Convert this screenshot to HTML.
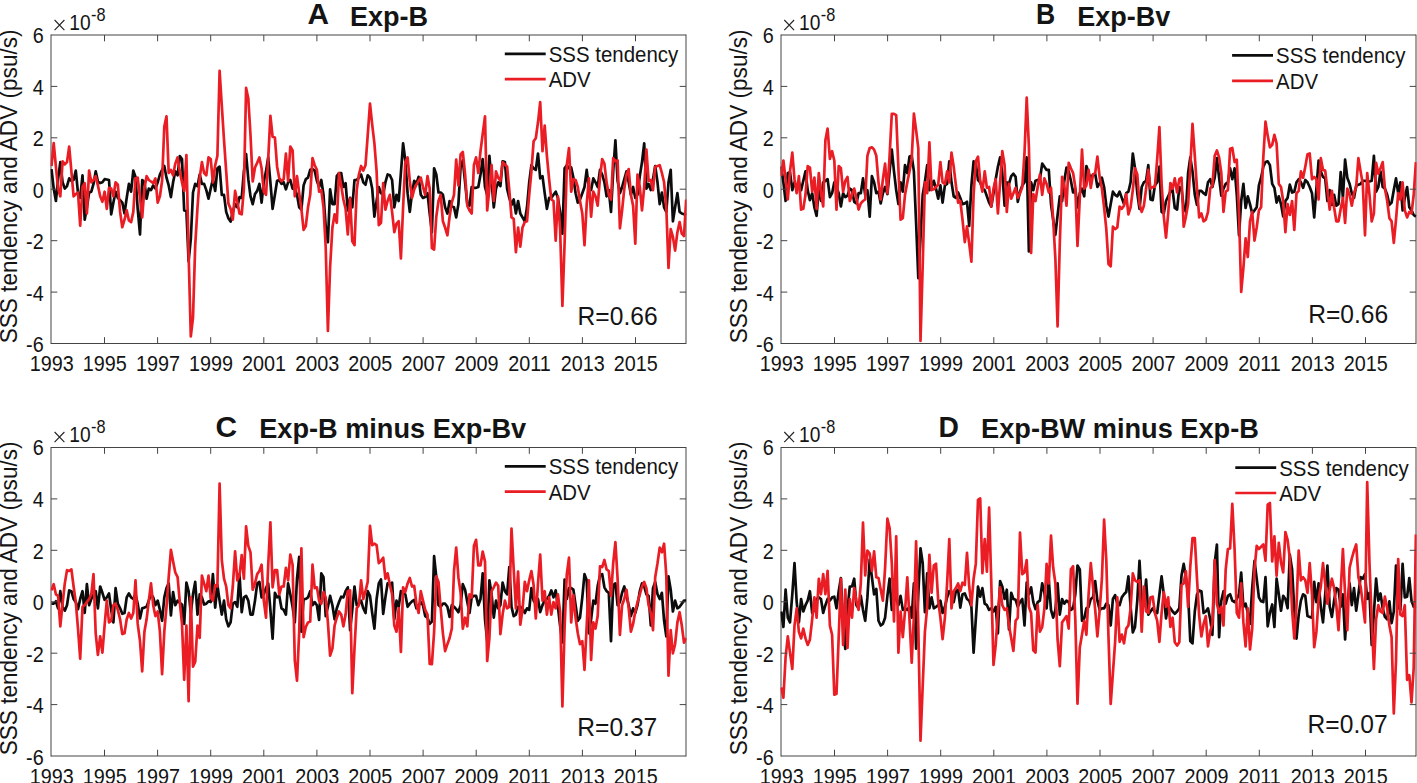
<!DOCTYPE html><html><head><meta charset="utf-8"><title>fig</title><style>html,body{margin:0;padding:0;background:#fff;overflow:hidden}svg{display:block}text{font-family:"Liberation Sans",sans-serif;fill:#141414}</style></head><body>
<svg width="1417" height="783" viewBox="0 0 1417 783">
<rect width="1417" height="783" fill="#fff"/>
<g><clipPath id="cpA"><rect x="50.5" y="35.0" width="636.0" height="308.5"/></clipPath><path d="M51.0,35.0H686.0M51.0,343.5H686.0M51.0,34.5V344.0M686.0,34.5V344.0" fill="none" stroke="#454545" stroke-width="1"/><polyline clip-path="url(#cpA)" points="51.5,169.1 53.7,188.6 55.9,201.0 58.1,179.2 60.3,162.1 62.6,182.3 64.8,188.6 67.0,186.2 69.2,178.4 71.4,180.8 73.6,180.0 75.8,170.6 78.0,193.2 80.2,197.9 82.5,175.3 84.7,219.7 86.9,207.3 89.1,192.5 91.3,191.7 93.5,183.9 95.7,171.4 97.9,181.5 100.2,183.1 102.4,182.3 104.6,179.2 106.8,179.5 109.0,180.0 111.2,214.3 113.4,202.6 115.6,191.7 117.8,197.9 120.1,200.2 122.3,202.6 124.5,213.5 126.7,197.9 128.9,183.9 131.1,191.7 133.3,170.6 135.5,176.9 137.7,208.8 140.0,234.5 142.2,180.0 144.4,182.3 146.6,198.7 148.8,188.6 151.0,190.1 153.2,185.4 155.4,188.6 157.7,182.3 159.9,174.5 162.1,169.9 164.3,166.0 166.5,177.7 168.7,185.4 170.9,197.1 173.1,182.3 175.3,171.4 177.6,175.3 179.8,156.1 182.0,159.0 184.2,210.4 186.4,211.0 188.6,261.2 190.8,239.0 193.0,192.5 195.2,183.9 197.5,186.2 199.7,174.5 201.9,183.9 204.1,183.9 206.3,190.1 208.5,198.7 210.7,188.6 212.9,179.2 215.2,190.9 217.4,168.3 219.6,166.7 221.8,194.8 224.0,194.8 226.2,211.9 228.4,218.2 230.6,221.6 232.8,211.9 235.1,204.1 237.3,207.3 239.5,197.1 241.7,197.9 243.9,171.4 246.1,154.0 248.3,179.2 250.5,196.3 252.7,204.1 255.0,194.0 257.2,190.9 259.4,183.9 261.6,202.6 263.8,181.5 266.0,171.4 268.2,157.4 270.4,182.3 272.6,208.8 274.9,194.8 277.1,180.8 279.3,180.0 281.5,183.9 283.7,182.3 285.9,189.3 288.1,182.3 290.3,180.0 292.6,188.6 294.8,189.3 297.0,194.8 299.2,207.3 301.4,209.6 303.6,185.4 305.8,179.2 308.0,177.7 310.2,169.9 312.5,169.1 314.7,170.6 316.9,180.8 319.1,187.0 321.3,180.0 323.5,194.8 325.7,226.0 327.9,242.2 330.1,189.3 332.4,204.1 334.6,204.1 336.8,176.1 339.0,173.0 341.2,173.0 343.4,187.0 345.6,183.1 347.8,210.4 350.1,197.9 352.3,207.3 354.5,180.0 356.7,180.0 358.9,177.7 361.1,174.5 363.3,182.3 365.5,184.7 367.7,175.3 370.0,177.7 372.2,188.6 374.4,216.6 376.6,201.0 378.8,187.0 381.0,193.2 383.2,194.8 385.4,182.3 387.6,174.5 389.9,175.3 392.1,180.0 394.3,207.3 396.5,194.8 398.7,201.0 400.9,173.0 403.1,143.4 405.3,160.5 407.6,193.2 409.8,211.9 412.0,193.2 414.2,180.8 416.4,183.9 418.6,176.9 420.8,194.8 423.0,197.9 425.2,197.1 427.5,193.2 429.7,213.5 431.9,232.2 434.1,168.3 436.3,174.5 438.5,192.5 440.7,192.5 442.9,194.8 445.1,207.3 447.4,213.5 449.6,201.0 451.8,206.5 454.0,207.3 456.2,217.4 458.4,204.1 460.6,166.7 462.8,160.5 465.1,182.3 467.3,204.1 469.5,205.7 471.7,187.0 473.9,187.8 476.1,187.8 478.3,187.0 480.5,174.5 482.7,159.0 485.0,187.0 487.2,194.8 489.4,155.8 491.6,182.3 493.8,207.3 496.0,188.6 498.2,182.3 500.4,186.2 502.6,161.3 504.9,162.1 507.1,188.6 509.3,197.9 511.5,204.9 513.7,199.5 515.9,213.5 518.1,201.0 520.3,213.5 522.5,217.4 524.8,221.3 527.0,207.3 529.2,182.3 531.4,165.2 533.6,168.3 535.8,169.9 538.0,153.5 540.2,178.4 542.5,176.1 544.7,193.2 546.9,208.8 549.1,197.9 551.3,197.9 553.5,194.8 555.7,191.7 557.9,197.9 560.1,211.9 562.4,233.7 564.6,168.3 566.8,165.2 569.0,168.3 571.2,167.5 573.4,177.7 575.6,193.2 577.8,202.6 580.0,199.5 582.3,193.2 584.5,187.0 586.7,169.9 588.9,188.6 591.1,190.1 593.3,178.4 595.5,182.3 597.7,187.0 600.0,169.9 602.2,174.5 604.4,182.3 606.6,196.3 608.8,190.1 611.0,211.9 613.2,171.4 615.4,140.3 617.6,180.8 619.9,193.2 622.1,187.0 624.3,179.2 626.5,171.4 628.7,182.3 630.9,194.8 633.1,187.0 635.3,197.9 637.5,194.8 639.8,176.1 642.0,162.1 644.2,143.4 646.4,188.6 648.6,183.9 650.8,190.1 653.0,179.2 655.2,166.0 657.5,182.3 659.7,204.1 661.9,192.5 664.1,207.3 666.3,211.9 668.5,182.3 670.7,169.9 672.9,221.3 675.1,207.3 677.4,193.2 679.6,211.9 681.8,213.5 684.0,214.3 686.2,215.0" fill="none" stroke="#0c0c0c" stroke-width="2.7" stroke-linejoin="round" stroke-linecap="butt"/><polyline clip-path="url(#cpA)" points="51.5,166.0 53.7,143.1 55.9,166.7 58.1,188.6 60.3,196.3 62.6,161.3 64.8,164.4 67.0,162.1 69.2,146.5 71.4,171.4 73.6,196.3 75.8,194.0 78.0,192.5 80.2,225.6 82.5,187.0 84.7,183.1 86.9,213.5 89.1,170.6 91.3,182.3 93.5,180.0 95.7,176.1 97.9,185.4 100.2,196.3 102.4,201.8 104.6,191.7 106.8,208.8 109.0,187.8 111.2,188.6 113.4,196.3 115.6,182.3 117.8,184.7 120.1,211.9 122.3,227.2 124.5,219.7 126.7,210.4 128.9,220.5 131.1,222.1 133.3,211.9 135.5,178.4 137.7,177.7 140.0,197.9 142.2,217.4 144.4,188.6 146.6,176.1 148.8,180.0 151.0,181.5 153.2,183.1 155.4,178.4 157.7,202.6 159.9,196.3 162.1,180.8 164.3,126.5 166.5,116.4 168.7,173.0 170.9,169.9 173.1,175.3 175.3,163.6 177.6,157.4 179.8,171.4 182.0,182.3 184.2,190.9 186.4,155.1 188.6,253.4 190.8,336.4 193.0,317.6 195.2,245.7 197.5,207.3 199.7,177.7 201.9,162.1 204.1,173.0 206.3,175.3 208.5,157.4 210.7,159.0 212.9,182.3 215.2,165.2 217.4,155.8 219.6,70.8 221.8,105.7 224.0,139.8 226.2,171.4 228.4,203.4 230.6,208.8 232.8,219.7 235.1,190.9 237.3,201.8 239.5,213.5 241.7,214.3 243.9,188.6 246.1,87.9 248.3,98.5 250.5,135.0 252.7,181.5 255.0,167.5 257.2,162.8 259.4,157.4 261.6,168.3 263.8,191.7 266.0,194.8 268.2,159.0 270.4,115.9 272.6,136.8 274.9,137.5 277.1,166.7 279.3,178.4 281.5,181.1 283.7,179.2 285.9,153.5 288.1,180.8 290.3,146.5 292.6,150.4 294.8,196.3 297.0,176.1 299.2,193.2 301.4,208.8 303.6,229.8 305.8,226.0 308.0,207.3 310.2,194.8 312.5,158.2 314.7,165.2 316.9,169.9 319.1,191.7 321.3,190.1 323.5,207.3 325.7,247.0 327.9,331.0 330.1,267.2 332.4,227.5 334.6,214.3 336.8,222.8 339.0,173.0 341.2,185.4 343.4,199.5 345.6,208.8 347.8,234.5 350.1,198.7 352.3,241.4 354.5,245.1 356.7,190.1 358.9,174.5 361.1,166.0 363.3,170.6 365.5,165.2 367.7,135.6 370.0,103.6 372.2,124.7 374.4,143.4 376.6,171.4 378.8,225.2 381.0,222.8 383.2,183.1 385.4,209.6 387.6,201.0 389.9,194.8 392.1,211.9 394.3,232.2 396.5,223.6 398.7,221.3 400.9,258.5 403.1,207.3 405.3,162.1 407.6,157.4 409.8,180.8 412.0,197.9 414.2,189.3 416.4,184.7 418.6,180.8 420.8,177.7 423.0,187.0 425.2,194.8 427.5,176.1 429.7,188.6 431.9,248.2 434.1,249.5 436.3,216.6 438.5,201.0 440.7,194.8 442.9,221.3 445.1,227.5 447.4,235.3 449.6,216.6 451.8,202.6 454.0,194.8 456.2,159.7 458.4,185.4 460.6,154.3 462.8,151.9 465.1,174.5 467.3,205.7 469.5,210.4 471.7,213.5 473.9,165.2 476.1,157.4 478.3,173.0 480.5,151.2 482.7,134.0 485.0,116.4 487.2,210.4 489.4,188.6 491.6,165.2 493.8,201.0 496.0,171.4 498.2,177.7 500.4,180.8 502.6,162.1 504.9,164.4 507.1,166.7 509.3,190.1 511.5,217.4 513.7,218.9 515.9,252.1 518.1,227.5 520.3,246.7 522.5,227.5 524.8,222.1 527.0,221.3 529.2,194.8 531.4,171.4 533.6,141.3 535.8,138.2 538.0,122.3 540.2,102.1 542.5,151.2 544.7,125.5 546.9,155.8 549.1,179.2 551.3,199.5 553.5,201.0 555.7,240.6 557.9,196.3 560.1,229.1 562.4,306.0 564.6,243.1 566.8,165.2 569.0,148.0 571.2,191.7 573.4,179.2 575.6,180.0 577.8,187.0 580.0,201.0 582.3,213.5 584.5,245.1 586.7,204.1 588.9,178.4 591.1,216.6 593.3,191.7 595.5,196.3 597.7,205.7 600.0,177.7 602.2,159.0 604.4,163.6 606.6,182.3 608.8,194.8 611.0,199.5 613.2,158.2 615.4,161.3 617.6,160.5 619.9,228.3 622.1,210.4 624.3,188.6 626.5,174.5 628.7,169.1 630.9,194.8 633.1,205.7 635.3,243.7 637.5,174.5 639.8,187.0 642.0,210.4 644.2,187.0 646.4,149.6 648.6,180.8 650.8,180.0 653.0,190.1 655.2,166.7 657.5,166.0 659.7,165.2 661.9,173.0 664.1,182.3 666.3,207.3 668.5,267.9 670.7,229.1 672.9,236.9 675.1,250.6 677.4,232.2 679.6,222.1 681.8,233.7 684.0,236.1 686.2,199.5" fill="none" stroke="#ea1c24" stroke-width="2.7" stroke-linejoin="round" stroke-linecap="butt"/><text transform="translate(51.7,371.4) scale(1,1.14)" font-size="19.8" text-anchor="middle">1993</text><text transform="translate(104.8,371.4) scale(1,1.14)" font-size="19.8" text-anchor="middle">1995</text><text transform="translate(157.9,371.4) scale(1,1.14)" font-size="19.8" text-anchor="middle">1997</text><text transform="translate(211.0,371.4) scale(1,1.14)" font-size="19.8" text-anchor="middle">1999</text><text transform="translate(264.1,371.4) scale(1,1.14)" font-size="19.8" text-anchor="middle">2001</text><text transform="translate(317.2,371.4) scale(1,1.14)" font-size="19.8" text-anchor="middle">2003</text><text transform="translate(370.3,371.4) scale(1,1.14)" font-size="19.8" text-anchor="middle">2005</text><text transform="translate(423.4,371.4) scale(1,1.14)" font-size="19.8" text-anchor="middle">2007</text><text transform="translate(476.5,371.4) scale(1,1.14)" font-size="19.8" text-anchor="middle">2009</text><text transform="translate(529.6,371.4) scale(1,1.14)" font-size="19.8" text-anchor="middle">2011</text><text transform="translate(582.7,371.4) scale(1,1.14)" font-size="19.8" text-anchor="middle">2013</text><text transform="translate(635.8,371.4) scale(1,1.14)" font-size="19.8" text-anchor="middle">2015</text><text transform="translate(43.7,352.3) scale(1,1.14)" font-size="19.8" text-anchor="end">-6</text><text transform="translate(43.7,300.7) scale(1,1.14)" font-size="19.8" text-anchor="end">-4</text><text transform="translate(43.7,249.2) scale(1,1.14)" font-size="19.8" text-anchor="end">-2</text><text transform="translate(43.7,197.6) scale(1,1.14)" font-size="19.8" text-anchor="end">0</text><text transform="translate(43.7,146.0) scale(1,1.14)" font-size="19.8" text-anchor="end">2</text><text transform="translate(43.7,94.5) scale(1,1.14)" font-size="19.8" text-anchor="end">4</text><text transform="translate(43.7,42.9) scale(1,1.14)" font-size="19.8" text-anchor="end">6</text><path d="M104.5,343.5v-6.3M104.5,35.0v6.3M157.6,343.5v-6.3M157.6,35.0v6.3M210.7,343.5v-6.3M210.7,35.0v6.3M263.8,343.5v-6.3M263.8,35.0v6.3M316.9,343.5v-6.3M316.9,35.0v6.3M370.0,343.5v-6.3M370.0,35.0v6.3M423.1,343.5v-6.3M423.1,35.0v6.3M476.2,343.5v-6.3M476.2,35.0v6.3M529.3,343.5v-6.3M529.3,35.0v6.3M582.4,343.5v-6.3M582.4,35.0v6.3M635.5,343.5v-6.3M635.5,35.0v6.3M51.0,292.1h6.3M686.0,292.1h-6.3M51.0,240.7h6.3M686.0,240.7h-6.3M51.0,189.2h6.3M686.0,189.2h-6.3M51.0,137.8h6.3M686.0,137.8h-6.3M51.0,86.4h6.3M686.0,86.4h-6.3" stroke="#454545" stroke-width="1" fill="none"/><path d="M54.6,20.0l9.8,10.1M64.4,20.0l-9.8,10.1" stroke="#222" stroke-width="1.1" fill="none"/><text transform="translate(69.3,30.0) scale(1,1.12)" font-size="19.2">10</text><text transform="translate(91.1,21.0) scale(1,1.1)" font-size="16.3">-8</text><text transform="translate(16.9,186.4) rotate(-90) scale(1,1.075)" font-size="22.6" text-anchor="middle">SSS tendency and ADV (psu/s)</text><text x="307.4" y="24.4" font-size="28.8" font-weight="bold" fill="#000" textLength="21.5" lengthAdjust="spacingAndGlyphs">A</text><text x="350.0" y="25.9" font-size="27.5" font-weight="bold" fill="#000" textLength="78.1" lengthAdjust="spacingAndGlyphs">Exp-B</text><path d="M504.8,53.8h40.9" stroke="#0c0c0c" stroke-width="2.7"/><path d="M504.8,79.2h40.9" stroke="#ea1c24" stroke-width="2.7"/><text transform="translate(548.7,61.7) scale(1,1.035)" font-size="20.45">SSS tendency</text><text transform="translate(548.7,87.4) scale(1,1.035)" font-size="20.45">ADV</text><text transform="translate(577.6,324.8) scale(1,1.03)" font-size="24.6">R=0.66</text></g>
<g><clipPath id="cpB"><rect x="780.5" y="35.0" width="636.0" height="308.5"/></clipPath><path d="M781.0,35.0H1416.0M781.0,343.5H1416.0M781.0,34.5V344.0M1416.0,34.5V344.0" fill="none" stroke="#454545" stroke-width="1"/><polyline clip-path="url(#cpB)" points="781.2,166.7 783.4,182.3 785.6,201.0 787.8,173.0 790.0,172.2 792.3,190.1 794.5,182.3 796.7,188.6 798.9,182.3 801.1,190.1 803.3,180.8 805.5,171.4 807.7,190.1 809.9,200.2 812.2,193.2 814.4,207.3 816.6,215.8 818.8,187.0 821.0,201.0 823.2,182.3 825.4,180.8 827.6,179.2 829.9,197.1 832.1,193.2 834.3,182.3 836.5,187.0 838.7,193.2 840.9,206.5 843.1,193.2 845.3,197.1 847.5,195.6 849.8,188.6 852.0,190.1 854.2,201.8 856.4,203.4 858.6,193.2 860.8,193.2 863.0,178.4 865.2,194.8 867.4,190.1 869.7,216.6 871.9,176.1 874.1,182.3 876.3,193.2 878.5,191.7 880.7,203.4 882.9,193.2 885.1,187.0 887.4,194.0 889.6,171.4 891.8,149.6 894.0,171.4 896.2,190.1 898.4,204.1 900.6,182.3 902.8,191.7 905.0,165.2 907.3,173.0 909.5,156.6 911.7,155.8 913.9,171.4 916.1,222.6 918.3,278.1 920.5,238.0 922.7,194.8 924.9,182.3 927.2,165.2 929.4,190.1 931.6,187.0 933.8,180.8 936.0,188.6 938.2,198.7 940.4,185.4 942.6,202.6 944.9,185.4 947.1,183.9 949.3,161.3 951.5,182.3 953.7,196.3 955.9,197.9 958.1,192.5 960.3,197.9 962.5,204.1 964.8,203.4 967.0,201.8 969.2,226.0 971.4,185.4 973.6,161.3 975.8,163.6 978.0,180.0 980.2,182.3 982.4,188.6 984.7,190.1 986.9,196.3 989.1,202.6 991.3,206.5 993.5,193.2 995.7,179.2 997.9,166.7 1000.1,157.4 1002.3,173.0 1004.6,205.7 1006.8,182.3 1009.0,183.9 1011.2,176.1 1013.4,173.8 1015.6,176.9 1017.8,201.8 1020.0,191.7 1022.3,185.4 1024.5,182.3 1026.7,157.4 1028.9,251.4 1031.1,182.3 1033.3,190.1 1035.5,180.8 1037.7,180.0 1039.9,179.2 1042.2,163.6 1044.4,166.7 1046.6,169.9 1048.8,169.9 1051.0,204.1 1053.2,219.7 1055.4,234.9 1057.6,215.0 1059.8,196.3 1062.1,201.0 1064.3,180.8 1066.5,167.5 1068.7,171.4 1070.9,180.8 1073.1,192.5 1075.3,188.6 1077.5,207.3 1079.8,193.2 1082.0,188.6 1084.2,196.3 1086.4,166.0 1088.6,173.0 1090.8,178.4 1093.0,174.5 1095.2,173.8 1097.4,187.0 1099.7,183.1 1101.9,177.7 1104.1,187.0 1106.3,205.7 1108.5,216.6 1110.7,204.1 1112.9,191.7 1115.1,194.8 1117.3,196.3 1119.6,191.7 1121.8,197.9 1124.0,204.1 1126.2,193.2 1128.4,191.7 1130.6,182.3 1132.8,153.5 1135.0,168.3 1137.3,193.2 1139.5,208.8 1141.7,187.0 1143.9,182.3 1146.1,180.8 1148.3,165.2 1150.5,199.5 1152.7,200.2 1154.9,185.4 1157.2,182.3 1159.4,166.7 1161.6,211.9 1163.8,213.5 1166.0,201.0 1168.2,196.3 1170.4,191.7 1172.6,190.1 1174.8,208.0 1177.1,209.6 1179.3,187.0 1181.5,188.6 1183.7,207.3 1185.9,211.9 1188.1,173.0 1190.3,157.4 1192.5,171.4 1194.8,194.8 1197.0,204.9 1199.2,190.9 1201.4,190.9 1203.6,193.2 1205.8,194.8 1208.0,182.3 1210.2,179.2 1212.4,187.0 1214.7,177.7 1216.9,158.2 1219.1,177.7 1221.3,195.6 1223.5,188.6 1225.7,183.9 1227.9,182.3 1230.1,168.3 1232.3,179.2 1234.6,168.3 1236.8,194.8 1239.0,235.3 1241.2,201.0 1243.4,183.9 1245.6,208.0 1247.8,196.3 1250.0,204.1 1252.2,213.5 1254.5,210.4 1256.7,207.3 1258.9,185.4 1261.1,177.7 1263.3,166.7 1265.5,162.1 1267.7,161.3 1269.9,165.2 1272.2,183.9 1274.4,187.8 1276.6,202.6 1278.8,196.3 1281.0,204.1 1283.2,216.6 1285.4,201.0 1287.6,197.9 1289.8,184.7 1292.1,192.5 1294.3,191.7 1296.5,182.3 1298.7,179.2 1300.9,182.3 1303.1,187.8 1305.3,180.0 1307.5,182.3 1309.7,187.0 1312.0,193.2 1314.2,217.4 1316.4,188.6 1318.6,160.5 1320.8,171.4 1323.0,176.9 1325.2,178.4 1327.4,201.0 1329.7,190.1 1331.9,204.9 1334.1,194.8 1336.3,205.7 1338.5,204.1 1340.7,172.2 1342.9,197.9 1345.1,159.7 1347.3,177.7 1349.6,183.9 1351.8,193.2 1354.0,197.9 1356.2,185.4 1358.4,184.7 1360.6,183.9 1362.8,180.8 1365.0,180.8 1367.2,181.5 1369.5,181.5 1371.7,180.8 1373.9,155.8 1376.1,191.7 1378.3,187.0 1380.5,171.4 1382.7,187.0 1384.9,188.6 1387.2,194.8 1389.4,204.9 1391.6,202.6 1393.8,190.1 1396.0,178.4 1398.2,193.2 1400.4,182.3 1402.6,210.4 1404.8,197.9 1407.1,187.0 1409.3,207.3 1411.5,210.4 1413.7,215.0 1415.9,216.6" fill="none" stroke="#0c0c0c" stroke-width="2.7" stroke-linejoin="round" stroke-linecap="butt"/><polyline clip-path="url(#cpB)" points="781.2,176.1 783.4,160.5 785.6,179.2 787.8,199.5 790.0,171.4 792.3,152.7 794.5,179.2 796.7,193.2 798.9,176.1 801.1,209.6 803.3,208.8 805.5,194.8 807.7,166.0 809.9,167.5 812.2,191.7 814.4,177.7 816.6,208.8 818.8,173.0 821.0,193.2 823.2,206.5 825.4,140.3 827.6,128.6 829.9,159.0 832.1,151.2 834.3,160.5 836.5,209.6 838.7,166.0 840.9,168.3 843.1,191.7 845.3,180.8 847.5,176.9 849.8,201.0 852.0,194.8 854.2,188.6 856.4,197.9 858.6,209.6 860.8,203.4 863.0,201.0 865.2,199.5 867.4,155.8 869.7,148.0 871.9,147.3 874.1,149.6 876.3,155.8 878.5,182.3 880.7,199.5 882.9,179.2 885.1,163.6 887.4,193.2 889.6,155.8 891.8,113.9 894.0,113.9 896.2,115.2 898.4,168.3 900.6,219.7 902.8,218.2 905.0,194.8 907.3,182.3 909.5,171.4 911.7,159.0 913.9,113.6 916.1,130.1 918.3,148.1 920.5,341.0 922.7,265.5 924.9,182.3 927.2,193.2 929.4,142.4 931.6,190.1 933.8,189.3 936.0,187.0 938.2,184.7 940.4,162.1 942.6,182.3 944.9,183.9 947.1,171.4 949.3,182.3 951.5,152.7 953.7,166.7 955.9,185.4 958.1,202.6 960.3,201.0 962.5,219.7 964.8,242.1 967.0,226.4 969.2,243.7 971.4,261.6 973.6,194.8 975.8,161.3 978.0,156.6 980.2,180.8 982.4,191.7 984.7,171.4 986.9,187.8 989.1,187.0 991.3,206.5 993.5,188.6 995.7,179.2 997.9,213.5 1000.1,182.3 1002.3,151.2 1004.6,165.2 1006.8,211.9 1009.0,183.9 1011.2,198.7 1013.4,193.2 1015.6,187.8 1017.8,197.9 1020.0,193.2 1022.3,187.0 1024.5,153.2 1026.7,97.7 1028.9,146.8 1031.1,252.9 1033.3,194.0 1035.5,201.0 1037.7,187.0 1039.9,174.5 1042.2,194.8 1044.4,178.4 1046.6,183.9 1048.8,192.5 1051.0,187.8 1053.2,219.7 1055.4,259.3 1057.6,326.4 1059.8,243.1 1062.1,176.9 1064.3,185.4 1066.5,205.7 1068.7,162.8 1070.9,168.3 1073.1,173.0 1075.3,187.0 1077.5,246.0 1079.8,197.9 1082.0,149.6 1084.2,188.6 1086.4,185.4 1088.6,169.9 1090.8,187.8 1093.0,174.5 1095.2,173.0 1097.4,156.6 1099.7,177.7 1101.9,188.6 1104.1,207.3 1106.3,229.1 1108.5,264.0 1110.7,266.3 1112.9,226.7 1115.1,229.1 1117.3,227.5 1119.6,206.5 1121.8,208.8 1124.0,205.7 1126.2,194.0 1128.4,214.3 1130.6,207.3 1132.8,190.1 1135.0,168.3 1137.3,174.5 1139.5,204.1 1141.7,211.9 1143.9,205.7 1146.1,188.6 1148.3,169.9 1150.5,188.6 1152.7,187.0 1154.9,187.0 1157.2,159.0 1159.4,127.0 1161.6,183.9 1163.8,216.6 1166.0,237.6 1168.2,213.5 1170.4,183.1 1172.6,188.6 1174.8,178.4 1177.1,192.5 1179.3,179.2 1181.5,177.7 1183.7,226.7 1185.9,216.6 1188.1,204.1 1190.3,166.7 1192.5,123.9 1194.8,155.8 1197.0,188.6 1199.2,217.4 1201.4,213.5 1203.6,221.3 1205.8,219.7 1208.0,211.9 1210.2,188.6 1212.4,185.4 1214.7,155.8 1216.9,150.4 1219.1,157.4 1221.3,173.0 1223.5,211.9 1225.7,191.7 1227.9,190.1 1230.1,148.8 1232.3,148.0 1234.6,162.1 1236.8,159.7 1239.0,213.5 1241.2,292.0 1243.4,267.8 1245.6,238.3 1247.8,257.0 1250.0,221.3 1252.2,211.9 1254.5,240.6 1256.7,227.5 1258.9,210.4 1261.1,207.3 1263.3,157.4 1265.5,121.6 1267.7,135.6 1269.9,147.3 1272.2,144.9 1274.4,134.8 1276.6,143.4 1278.8,183.9 1281.0,187.0 1283.2,201.0 1285.4,232.2 1287.6,204.1 1289.8,215.0 1292.1,201.0 1294.3,229.8 1296.5,193.2 1298.7,190.9 1300.9,171.4 1303.1,177.7 1305.3,166.7 1307.5,154.3 1309.7,153.5 1312.0,179.2 1314.2,176.9 1316.4,179.2 1318.6,199.5 1320.8,158.2 1323.0,169.9 1325.2,170.6 1327.4,190.1 1329.7,209.6 1331.9,190.9 1334.1,207.3 1336.3,221.3 1338.5,221.3 1340.7,208.8 1342.9,197.9 1345.1,222.8 1347.3,188.6 1349.6,194.8 1351.8,205.7 1354.0,193.2 1356.2,187.0 1358.4,158.2 1360.6,171.4 1362.8,183.9 1365.0,235.3 1367.2,173.0 1369.5,194.8 1371.7,221.3 1373.9,213.5 1376.1,162.8 1378.3,173.8 1380.5,168.3 1382.7,162.1 1384.9,188.6 1387.2,201.0 1389.4,218.2 1391.6,221.3 1393.8,242.9 1396.0,219.7 1398.2,193.2 1400.4,199.5 1402.6,182.3 1404.8,210.4 1407.1,217.4 1409.3,211.9 1411.5,213.5 1413.7,194.8 1415.9,162.1" fill="none" stroke="#ea1c24" stroke-width="2.7" stroke-linejoin="round" stroke-linecap="butt"/><text transform="translate(781.7,371.4) scale(1,1.14)" font-size="19.8" text-anchor="middle">1993</text><text transform="translate(834.8,371.4) scale(1,1.14)" font-size="19.8" text-anchor="middle">1995</text><text transform="translate(887.9,371.4) scale(1,1.14)" font-size="19.8" text-anchor="middle">1997</text><text transform="translate(941.0,371.4) scale(1,1.14)" font-size="19.8" text-anchor="middle">1999</text><text transform="translate(994.1,371.4) scale(1,1.14)" font-size="19.8" text-anchor="middle">2001</text><text transform="translate(1047.2,371.4) scale(1,1.14)" font-size="19.8" text-anchor="middle">2003</text><text transform="translate(1100.3,371.4) scale(1,1.14)" font-size="19.8" text-anchor="middle">2005</text><text transform="translate(1153.4,371.4) scale(1,1.14)" font-size="19.8" text-anchor="middle">2007</text><text transform="translate(1206.5,371.4) scale(1,1.14)" font-size="19.8" text-anchor="middle">2009</text><text transform="translate(1259.6,371.4) scale(1,1.14)" font-size="19.8" text-anchor="middle">2011</text><text transform="translate(1312.7,371.4) scale(1,1.14)" font-size="19.8" text-anchor="middle">2013</text><text transform="translate(1365.8,371.4) scale(1,1.14)" font-size="19.8" text-anchor="middle">2015</text><text transform="translate(773.7,352.3) scale(1,1.14)" font-size="19.8" text-anchor="end">-6</text><text transform="translate(773.7,300.7) scale(1,1.14)" font-size="19.8" text-anchor="end">-4</text><text transform="translate(773.7,249.2) scale(1,1.14)" font-size="19.8" text-anchor="end">-2</text><text transform="translate(773.7,197.6) scale(1,1.14)" font-size="19.8" text-anchor="end">0</text><text transform="translate(773.7,146.0) scale(1,1.14)" font-size="19.8" text-anchor="end">2</text><text transform="translate(773.7,94.5) scale(1,1.14)" font-size="19.8" text-anchor="end">4</text><text transform="translate(773.7,42.9) scale(1,1.14)" font-size="19.8" text-anchor="end">6</text><path d="M834.5,343.5v-6.3M834.5,35.0v6.3M887.6,343.5v-6.3M887.6,35.0v6.3M940.7,343.5v-6.3M940.7,35.0v6.3M993.8,343.5v-6.3M993.8,35.0v6.3M1046.9,343.5v-6.3M1046.9,35.0v6.3M1100.0,343.5v-6.3M1100.0,35.0v6.3M1153.1,343.5v-6.3M1153.1,35.0v6.3M1206.2,343.5v-6.3M1206.2,35.0v6.3M1259.3,343.5v-6.3M1259.3,35.0v6.3M1312.4,343.5v-6.3M1312.4,35.0v6.3M1365.5,343.5v-6.3M1365.5,35.0v6.3M781.0,292.1h6.3M1416.0,292.1h-6.3M781.0,240.7h6.3M1416.0,240.7h-6.3M781.0,189.2h6.3M1416.0,189.2h-6.3M781.0,137.8h6.3M1416.0,137.8h-6.3M781.0,86.4h6.3M1416.0,86.4h-6.3" stroke="#454545" stroke-width="1" fill="none"/><path d="M784.3,20.0l9.8,10.1M794.1,20.0l-9.8,10.1" stroke="#222" stroke-width="1.1" fill="none"/><text transform="translate(799.0,30.0) scale(1,1.12)" font-size="19.2">10</text><text transform="translate(820.8,21.0) scale(1,1.1)" font-size="16.3">-8</text><text transform="translate(746.6,186.4) rotate(-90) scale(1,1.075)" font-size="22.6" text-anchor="middle">SSS tendency and ADV (psu/s)</text><text x="1036.0" y="24.4" font-size="28.8" font-weight="bold" fill="#000" textLength="19.2" lengthAdjust="spacingAndGlyphs">B</text><text x="1077.3" y="25.9" font-size="27.5" font-weight="bold" fill="#000" textLength="93.1" lengthAdjust="spacingAndGlyphs">Exp-Bv</text><path d="M1232.1,55.4h40.9" stroke="#0c0c0c" stroke-width="2.7"/><path d="M1232.1,80.8h40.9" stroke="#ea1c24" stroke-width="2.7"/><text transform="translate(1276.0,63.3) scale(1,1.035)" font-size="20.45">SSS tendency</text><text transform="translate(1276.0,89.0) scale(1,1.035)" font-size="20.45">ADV</text><text transform="translate(1308.2,322.9) scale(1,1.03)" font-size="24.6">R=0.66</text></g>
<g><clipPath id="cpC"><rect x="50.5" y="447.5" width="636.0" height="308.5"/></clipPath><path d="M51.0,447.5H686.0M51.0,756.0H686.0M51.0,447.0V756.5M686.0,447.0V756.5" fill="none" stroke="#454545" stroke-width="1"/><polyline clip-path="url(#cpC)" points="51.5,603.7 53.7,603.7 55.9,601.3 58.1,608.3 60.3,591.2 62.6,606.8 64.8,610.7 67.0,605.2 69.2,590.4 71.4,591.2 73.6,599.0 75.8,602.1 78.0,609.1 80.2,599.0 82.5,591.2 84.7,613.0 86.9,584.2 89.1,605.2 91.3,599.0 93.5,594.3 95.7,591.2 97.9,608.3 100.2,586.5 102.4,592.8 104.6,599.8 106.8,597.4 109.0,593.5 111.2,609.9 113.4,622.4 115.6,588.1 117.8,603.7 120.1,608.3 122.3,613.8 124.5,613.0 126.7,597.4 128.9,593.5 131.1,597.4 133.3,599.0 135.5,594.3 137.7,603.7 140.0,618.5 142.2,608.3 144.4,607.6 146.6,606.8 148.8,600.6 151.0,594.3 153.2,597.4 155.4,605.2 157.7,600.6 159.9,609.9 162.1,620.8 164.3,597.4 166.5,588.1 168.7,583.4 170.9,615.4 173.1,592.0 175.3,605.2 177.6,600.6 179.8,602.9 182.0,604.5 184.2,623.9 186.4,582.6 188.6,591.2 190.8,613.0 193.0,594.3 195.2,581.9 197.5,614.6 199.7,594.3 201.9,597.4 204.1,604.5 206.3,603.7 208.5,601.3 210.7,602.1 212.9,574.1 215.2,607.6 217.4,585.0 219.6,600.6 221.8,614.6 224.0,600.6 226.2,619.3 228.4,626.3 230.6,622.4 232.8,603.7 235.1,602.1 237.3,606.8 239.5,574.1 241.7,612.2 243.9,597.4 246.1,595.9 248.3,600.6 250.5,614.6 252.7,614.6 255.0,600.6 257.2,583.4 259.4,581.9 261.6,597.4 263.8,594.3 266.0,588.1 268.2,583.4 270.4,609.9 272.6,638.7 274.9,592.8 277.1,597.4 279.3,595.9 281.5,608.3 283.7,609.9 285.9,614.6 288.1,583.4 290.3,594.3 292.6,606.8 294.8,622.4 297.0,578.7 299.2,556.9 301.4,631.7 303.6,599.0 305.8,599.0 308.0,597.4 310.2,591.2 312.5,605.2 314.7,602.1 316.9,605.2 319.1,620.0 321.3,573.3 323.5,577.2 325.7,616.1 327.9,606.8 330.1,595.9 332.4,605.2 334.6,619.3 336.8,608.3 339.0,602.1 341.2,596.7 343.4,597.4 345.6,591.2 347.8,587.3 350.1,630.2 352.3,609.9 354.5,586.5 356.7,605.2 358.9,603.7 361.1,600.6 363.3,608.3 365.5,613.0 367.7,591.2 370.0,595.9 372.2,613.0 374.4,628.6 376.6,599.0 378.8,583.4 381.0,579.5 383.2,613.8 385.4,597.4 387.6,583.4 389.9,584.2 392.1,582.6 394.3,619.3 396.5,600.6 398.7,606.8 400.9,591.2 403.1,593.5 405.3,594.3 407.6,606.8 409.8,603.7 412.0,601.3 414.2,599.8 416.4,608.3 418.6,605.2 420.8,602.1 423.0,605.2 425.2,616.1 427.5,617.7 429.7,623.9 431.9,621.6 434.1,556.2 436.3,577.2 438.5,605.2 440.7,606.8 442.9,603.7 445.1,603.7 447.4,606.8 449.6,616.9 451.8,605.2 454.0,606.8 456.2,609.1 458.4,612.2 460.6,605.2 462.8,584.2 465.1,589.7 467.3,602.1 469.5,613.0 471.7,597.4 473.9,595.9 476.1,595.9 478.3,605.2 480.5,599.0 482.7,573.3 485.0,619.3 487.2,641.1 489.4,580.3 491.6,594.3 493.8,617.7 496.0,600.6 498.2,608.3 500.4,605.2 502.6,582.6 504.9,591.2 507.1,594.3 509.3,567.1 511.5,606.8 513.7,616.1 515.9,614.6 518.1,606.8 520.3,606.8 522.5,608.3 524.8,613.0 527.0,608.3 529.2,609.9 531.4,588.1 533.6,600.6 535.8,603.7 538.0,599.0 540.2,612.2 542.5,605.2 544.7,600.6 546.9,599.0 549.1,595.9 551.3,590.4 553.5,597.4 555.7,590.4 557.9,606.8 560.1,625.5 562.4,642.3 564.6,579.5 566.8,599.0 569.0,588.1 571.2,588.1 573.4,589.7 575.6,605.2 577.8,620.8 580.0,617.7 582.3,597.4 584.5,574.1 586.7,580.3 588.9,633.3 591.1,619.3 593.3,600.6 595.5,603.7 597.7,585.8 600.0,575.6 602.2,574.1 604.4,587.3 606.6,591.2 608.8,592.8 611.0,641.1 613.2,585.0 615.4,583.4 617.6,605.2 619.9,602.1 622.1,592.8 624.3,586.5 626.5,595.9 628.7,605.2 630.9,616.1 633.1,608.3 635.3,613.0 637.5,605.2 639.8,591.2 642.0,583.4 644.2,586.5 646.4,594.3 648.6,595.9 650.8,625.5 653.0,588.1 655.2,581.9 657.5,594.3 659.7,599.0 661.9,592.8 664.1,620.8 666.3,636.4 668.5,576.4 670.7,589.7 672.9,611.5 675.1,600.6 677.4,608.3 679.6,606.8 681.8,603.7 684.0,600.6 686.2,600.6" fill="none" stroke="#0c0c0c" stroke-width="2.7" stroke-linejoin="round" stroke-linecap="butt"/><polyline clip-path="url(#cpC)" points="51.5,590.4 53.7,584.2 55.9,594.3 58.1,595.9 60.3,626.3 62.6,603.7 64.8,583.4 67.0,570.2 69.2,571.0 71.4,569.4 73.6,586.5 75.8,602.1 78.0,628.6 80.2,658.7 82.5,606.8 84.7,605.2 86.9,602.1 89.1,599.0 91.3,594.3 93.5,574.1 95.7,633.3 97.9,654.9 100.2,636.4 102.4,652.6 104.6,625.5 106.8,600.6 109.0,622.4 111.2,620.8 113.4,605.2 115.6,603.7 117.8,609.9 120.1,619.3 122.3,634.1 124.5,633.3 126.7,619.3 128.9,613.0 131.1,618.5 133.3,613.0 135.5,580.3 137.7,623.9 140.0,641.1 142.2,671.3 144.4,631.7 146.6,619.3 148.8,600.6 151.0,583.4 153.2,605.2 155.4,616.1 157.7,611.5 159.9,631.7 162.1,674.1 164.3,631.7 166.5,606.8 168.7,577.2 170.9,549.8 173.1,561.4 175.3,572.5 177.6,577.2 179.8,602.1 182.0,623.9 184.2,679.8 186.4,625.5 188.6,701.1 190.8,597.4 193.0,666.7 195.2,661.8 197.5,625.5 199.7,638.0 201.9,575.6 204.1,583.4 206.3,591.2 208.5,575.6 210.7,597.4 212.9,600.6 215.2,585.0 217.4,586.5 219.6,483.5 221.8,560.1 224.0,578.7 226.2,586.5 228.4,605.2 230.6,608.3 232.8,586.5 235.1,551.3 237.3,580.3 239.5,575.6 241.7,555.2 243.9,578.7 246.1,526.4 248.3,545.9 250.5,552.4 252.7,589.7 255.0,583.4 257.2,574.1 259.4,571.0 261.6,564.7 263.8,600.6 266.0,617.7 268.2,565.2 270.4,522.3 272.6,587.3 274.9,570.2 277.1,570.2 279.3,594.3 281.5,586.5 283.7,586.5 285.9,567.8 288.1,580.3 290.3,554.6 292.6,564.7 294.8,660.3 297.0,680.6 299.2,632.0 301.4,548.4 303.6,637.2 305.8,627.0 308.0,622.4 310.2,621.6 312.5,564.7 314.7,588.1 316.9,587.3 319.1,600.6 321.3,603.7 323.5,592.0 325.7,597.4 327.9,622.4 330.1,655.7 332.4,648.7 334.6,625.5 336.8,617.7 339.0,611.5 341.2,614.6 343.4,626.3 345.6,614.6 347.8,591.2 350.1,590.4 352.3,693.2 354.5,648.2 356.7,608.3 358.9,605.2 361.1,580.3 363.3,599.0 365.5,591.2 367.7,581.9 370.0,525.9 372.2,545.2 374.4,543.7 376.6,545.2 378.8,563.2 381.0,560.8 383.2,557.7 385.4,578.7 387.6,573.3 389.9,585.0 392.1,594.3 394.3,625.5 396.5,631.7 398.7,608.3 400.9,652.0 403.1,587.3 405.3,592.0 407.6,583.4 409.8,578.0 412.0,586.5 414.2,585.8 416.4,603.7 418.6,613.0 420.8,591.2 423.0,600.6 425.2,609.9 427.5,614.6 429.7,663.9 431.9,664.1 434.1,632.0 436.3,576.4 438.5,581.9 440.7,608.3 442.9,633.3 445.1,651.2 447.4,644.2 449.6,638.0 451.8,628.6 454.0,571.0 456.2,547.6 458.4,577.2 460.6,592.8 462.8,628.6 465.1,617.7 467.3,626.3 469.5,594.3 471.7,597.4 473.9,546.0 476.1,539.8 478.3,565.5 480.5,565.5 482.7,551.5 485.0,561.6 487.2,661.0 489.4,638.0 491.6,591.2 493.8,587.3 496.0,582.6 498.2,585.8 500.4,634.1 502.6,614.6 504.9,600.6 507.1,608.3 509.3,606.8 511.5,528.5 513.7,569.4 515.9,608.3 518.1,571.7 520.3,624.7 522.5,609.9 524.8,581.9 527.0,591.2 529.2,580.3 531.4,571.0 533.6,585.0 535.8,618.5 538.0,583.4 540.2,554.6 542.5,600.6 544.7,591.2 546.9,614.6 549.1,597.4 551.3,614.6 553.5,602.1 555.7,608.3 557.9,594.3 560.1,611.5 562.4,706.5 564.6,626.9 566.8,574.1 569.0,557.7 571.2,622.4 573.4,595.1 575.6,617.7 577.8,633.3 580.0,644.2 582.3,641.1 584.5,669.8 586.7,625.5 588.9,580.3 591.1,660.0 593.3,622.4 595.5,628.6 597.7,616.1 600.0,566.3 602.2,567.1 604.4,560.0 606.6,569.4 608.8,571.0 611.0,595.9 613.2,563.2 615.4,542.1 617.6,578.7 619.9,634.8 622.1,605.2 624.3,599.0 626.5,589.7 628.7,608.3 630.9,631.7 633.1,623.9 635.3,611.5 637.5,602.1 639.8,594.3 642.0,586.5 644.2,581.9 646.4,588.1 648.6,605.2 650.8,613.0 653.0,630.2 655.2,577.2 657.5,563.2 659.7,547.6 661.9,552.3 664.1,543.7 666.3,575.6 668.5,675.7 670.7,630.2 672.9,653.3 675.1,644.2 677.4,622.4 679.6,612.2 681.8,625.5 684.0,642.6 686.2,638.0" fill="none" stroke="#ea1c24" stroke-width="2.7" stroke-linejoin="round" stroke-linecap="butt"/><text transform="translate(51.7,783.9) scale(1,1.14)" font-size="19.8" text-anchor="middle">1993</text><text transform="translate(104.8,783.9) scale(1,1.14)" font-size="19.8" text-anchor="middle">1995</text><text transform="translate(157.9,783.9) scale(1,1.14)" font-size="19.8" text-anchor="middle">1997</text><text transform="translate(211.0,783.9) scale(1,1.14)" font-size="19.8" text-anchor="middle">1999</text><text transform="translate(264.1,783.9) scale(1,1.14)" font-size="19.8" text-anchor="middle">2001</text><text transform="translate(317.2,783.9) scale(1,1.14)" font-size="19.8" text-anchor="middle">2003</text><text transform="translate(370.3,783.9) scale(1,1.14)" font-size="19.8" text-anchor="middle">2005</text><text transform="translate(423.4,783.9) scale(1,1.14)" font-size="19.8" text-anchor="middle">2007</text><text transform="translate(476.5,783.9) scale(1,1.14)" font-size="19.8" text-anchor="middle">2009</text><text transform="translate(529.6,783.9) scale(1,1.14)" font-size="19.8" text-anchor="middle">2011</text><text transform="translate(582.7,783.9) scale(1,1.14)" font-size="19.8" text-anchor="middle">2013</text><text transform="translate(635.8,783.9) scale(1,1.14)" font-size="19.8" text-anchor="middle">2015</text><text transform="translate(43.7,764.8) scale(1,1.14)" font-size="19.8" text-anchor="end">-6</text><text transform="translate(43.7,713.2) scale(1,1.14)" font-size="19.8" text-anchor="end">-4</text><text transform="translate(43.7,661.7) scale(1,1.14)" font-size="19.8" text-anchor="end">-2</text><text transform="translate(43.7,610.1) scale(1,1.14)" font-size="19.8" text-anchor="end">0</text><text transform="translate(43.7,558.5) scale(1,1.14)" font-size="19.8" text-anchor="end">2</text><text transform="translate(43.7,507.0) scale(1,1.14)" font-size="19.8" text-anchor="end">4</text><text transform="translate(43.7,455.4) scale(1,1.14)" font-size="19.8" text-anchor="end">6</text><path d="M104.5,756.0v-6.3M104.5,447.5v6.3M157.6,756.0v-6.3M157.6,447.5v6.3M210.7,756.0v-6.3M210.7,447.5v6.3M263.8,756.0v-6.3M263.8,447.5v6.3M316.9,756.0v-6.3M316.9,447.5v6.3M370.0,756.0v-6.3M370.0,447.5v6.3M423.1,756.0v-6.3M423.1,447.5v6.3M476.2,756.0v-6.3M476.2,447.5v6.3M529.3,756.0v-6.3M529.3,447.5v6.3M582.4,756.0v-6.3M582.4,447.5v6.3M635.5,756.0v-6.3M635.5,447.5v6.3M51.0,704.6h6.3M686.0,704.6h-6.3M51.0,653.2h6.3M686.0,653.2h-6.3M51.0,601.8h6.3M686.0,601.8h-6.3M51.0,550.3h6.3M686.0,550.3h-6.3M51.0,498.9h6.3M686.0,498.9h-6.3" stroke="#454545" stroke-width="1" fill="none"/><path d="M54.6,432.0l9.8,10.1M64.4,432.0l-9.8,10.1" stroke="#222" stroke-width="1.1" fill="none"/><text transform="translate(69.3,442.0) scale(1,1.12)" font-size="19.2">10</text><text transform="translate(91.1,433.0) scale(1,1.1)" font-size="16.3">-8</text><text transform="translate(16.9,598.4) rotate(-90) scale(1,1.075)" font-size="22.6" text-anchor="middle">SSS tendency and ADV (psu/s)</text><text x="215.5" y="436.5" font-size="28.8" font-weight="bold" fill="#000" textLength="21.6" lengthAdjust="spacingAndGlyphs">C</text><text x="259.2" y="438.0" font-size="27.5" font-weight="bold" fill="#000" textLength="267.0" lengthAdjust="spacingAndGlyphs">Exp-B minus Exp-Bv</text><path d="M504.8,466.3h40.9" stroke="#0c0c0c" stroke-width="2.7"/><path d="M504.8,491.7h40.9" stroke="#ea1c24" stroke-width="2.7"/><text transform="translate(548.7,474.2) scale(1,1.035)" font-size="20.45">SSS tendency</text><text transform="translate(548.7,499.9) scale(1,1.035)" font-size="20.45">ADV</text><text transform="translate(577.3,735.5) scale(1,1.03)" font-size="24.6">R=0.37</text></g>
<g><clipPath id="cpD"><rect x="780.5" y="447.5" width="636.0" height="308.5"/></clipPath><path d="M781.0,447.5H1416.0M781.0,756.0H1416.0M781.0,447.0V756.5M1416.0,447.0V756.5" fill="none" stroke="#454545" stroke-width="1"/><polyline clip-path="url(#cpD)" points="781.2,611.5 783.4,627.0 785.6,589.7 787.8,617.7 790.0,622.4 792.3,594.3 794.5,563.2 796.7,602.1 798.9,622.4 801.1,599.0 803.3,611.5 805.5,605.2 807.7,600.6 809.9,591.2 812.2,613.0 814.4,609.9 816.6,599.0 818.8,597.4 821.0,599.0 823.2,613.0 825.4,605.2 827.6,599.0 829.9,600.6 832.1,597.4 834.3,596.7 836.5,608.3 838.7,591.2 840.9,578.0 843.1,625.5 845.3,648.9 847.5,609.9 849.8,586.5 852.0,586.5 854.2,578.7 856.4,605.2 858.6,608.3 860.8,595.9 863.0,609.9 865.2,620.8 867.4,597.4 869.7,559.3 871.9,577.2 874.1,594.3 876.3,588.9 878.5,620.8 880.7,625.5 882.9,623.9 885.1,617.7 887.4,595.9 889.6,578.7 891.8,609.9 894.0,594.3 896.2,599.0 898.4,605.2 900.6,595.9 902.8,609.9 905.0,608.3 907.3,609.9 909.5,606.8 911.7,617.7 913.9,583.4 916.1,648.7 918.3,594.3 920.5,548.3 922.7,563.2 924.9,612.2 927.2,573.3 929.4,608.3 931.6,597.4 933.8,608.3 936.0,606.8 938.2,605.2 940.4,600.6 942.6,613.0 944.9,606.8 947.1,597.4 949.3,591.2 951.5,594.3 953.7,602.1 955.9,591.2 958.1,589.7 960.3,607.6 962.5,594.3 964.8,593.5 967.0,599.0 969.2,600.6 971.4,606.8 973.6,652.6 975.8,619.3 978.0,586.5 980.2,596.7 982.4,588.1 984.7,603.7 986.9,605.2 989.1,609.9 991.3,608.3 993.5,611.5 995.7,606.8 997.9,633.3 1000.1,581.1 1002.3,586.5 1004.6,599.0 1006.8,589.7 1009.0,629.4 1011.2,592.8 1013.4,599.0 1015.6,599.8 1017.8,606.8 1020.0,602.1 1022.3,599.0 1024.5,625.5 1026.7,582.6 1028.9,594.3 1031.1,587.3 1033.3,602.1 1035.5,609.1 1037.7,602.1 1039.9,600.6 1042.2,583.4 1044.4,592.8 1046.6,608.3 1048.8,580.3 1051.0,609.9 1053.2,617.7 1055.4,609.9 1057.6,583.4 1059.8,614.6 1062.1,599.0 1064.3,603.7 1066.5,600.6 1068.7,602.1 1070.9,609.9 1073.1,608.3 1075.3,594.3 1077.5,565.5 1079.8,569.4 1082.0,620.8 1084.2,618.5 1086.4,608.3 1088.6,606.8 1090.8,599.0 1093.0,597.4 1095.2,581.1 1097.4,600.6 1099.7,609.9 1101.9,608.3 1104.1,608.3 1106.3,603.7 1108.5,605.2 1110.7,625.5 1112.9,599.0 1115.1,595.1 1117.3,603.7 1119.6,605.2 1121.8,597.4 1124.0,594.3 1126.2,592.0 1128.4,576.4 1130.6,606.8 1132.8,632.5 1135.0,627.0 1137.3,600.6 1139.5,560.8 1141.7,600.6 1143.9,603.7 1146.1,579.5 1148.3,614.6 1150.5,611.5 1152.7,608.3 1154.9,612.2 1157.2,613.0 1159.4,594.3 1161.6,576.4 1163.8,594.3 1166.0,618.5 1168.2,605.2 1170.4,608.3 1172.6,611.5 1174.8,613.8 1177.1,611.5 1179.3,608.3 1181.5,575.6 1183.7,563.9 1185.9,577.2 1188.1,594.3 1190.3,641.1 1192.5,643.4 1194.8,611.5 1197.0,594.3 1199.2,590.4 1201.4,591.2 1203.6,613.0 1205.8,611.5 1208.0,608.3 1210.2,619.3 1212.4,634.8 1214.7,563.2 1216.9,544.5 1219.1,637.2 1221.3,600.6 1223.5,591.2 1225.7,603.7 1227.9,595.9 1230.1,594.3 1232.3,600.6 1234.6,602.1 1236.8,599.0 1239.0,594.3 1241.2,572.5 1243.4,606.8 1245.6,603.7 1247.8,613.0 1250.0,623.9 1252.2,588.1 1254.5,560.8 1256.7,578.7 1258.9,597.4 1261.1,601.3 1263.3,602.1 1265.5,577.2 1267.7,626.3 1269.9,613.0 1272.2,604.5 1274.4,627.0 1276.6,578.7 1278.8,594.3 1281.0,610.7 1283.2,595.9 1285.4,599.0 1287.6,608.3 1289.8,554.6 1292.1,569.4 1294.3,609.9 1296.5,638.7 1298.7,614.6 1300.9,600.6 1303.1,594.3 1305.3,595.9 1307.5,616.1 1309.7,616.9 1312.0,617.7 1314.2,581.9 1316.4,602.1 1318.6,583.4 1320.8,606.8 1323.0,622.4 1325.2,594.3 1327.4,565.5 1329.7,606.8 1331.9,616.9 1334.1,600.6 1336.3,588.1 1338.5,589.7 1340.7,606.8 1342.9,594.3 1345.1,639.5 1347.3,605.2 1349.6,583.4 1351.8,605.2 1354.0,588.1 1356.2,610.7 1358.4,594.3 1360.6,577.2 1362.8,578.7 1365.0,574.1 1367.2,599.0 1369.5,592.8 1371.7,645.0 1373.9,613.0 1376.1,578.7 1378.3,600.6 1380.5,593.5 1382.7,608.3 1384.9,616.9 1387.2,619.3 1389.4,601.3 1391.6,623.1 1393.8,611.5 1396.0,565.5 1398.2,606.8 1400.4,609.9 1402.6,563.9 1404.8,597.4 1407.1,596.7 1409.3,578.0 1411.5,600.6 1413.7,606.8 1415.9,606.0" fill="none" stroke="#0c0c0c" stroke-width="2.7" stroke-linejoin="round" stroke-linecap="butt"/><polyline clip-path="url(#cpD)" points="781.2,687.5 783.4,697.8 785.6,657.2 787.8,636.4 790.0,652.6 792.3,669.0 794.5,625.6 796.7,608.4 798.9,631.8 801.1,638.4 803.3,628.7 805.5,638.4 807.7,644.9 809.9,639.7 812.2,619.2 814.4,597.3 816.6,617.6 818.8,578.8 821.0,594.2 823.2,574.2 825.4,594.2 827.6,570.9 829.9,625.6 832.1,634.8 834.3,694.7 836.5,693.7 838.7,636.9 840.9,578.8 843.1,644.9 845.3,589.6 847.5,647.9 849.8,599.1 852.0,617.6 854.2,588.1 856.4,600.7 858.6,609.9 860.8,583.5 863.0,522.6 865.2,575.5 867.4,550.6 869.7,553.6 871.9,570.9 874.1,551.3 876.3,577.3 878.5,578.1 880.7,589.6 882.9,600.7 885.1,567.8 887.4,518.7 889.6,528.0 891.8,563.2 894.0,621.5 896.2,536.4 898.4,652.6 900.6,611.5 902.8,637.2 905.0,611.5 907.3,577.3 909.5,619.2 911.7,662.6 913.9,616.1 916.1,541.3 918.3,626.9 920.5,740.7 922.7,686.0 924.9,632.0 927.2,606.8 929.4,554.9 931.6,592.7 933.8,565.5 936.0,563.7 938.2,600.7 940.4,617.6 942.6,639.2 944.9,617.6 947.1,583.5 949.3,539.0 951.5,608.4 953.7,591.2 955.9,588.1 958.1,583.5 960.3,591.2 962.5,582.7 964.8,585.0 967.0,552.9 969.2,586.5 971.4,605.3 973.6,578.8 975.8,563.9 978.0,499.9 980.2,498.4 982.4,573.2 984.7,539.0 986.9,571.6 989.1,507.7 991.3,583.4 993.5,664.9 995.7,644.9 997.9,611.5 1000.1,587.3 1002.3,605.2 1004.6,609.9 1006.8,608.3 1009.0,625.5 1011.2,638.0 1013.4,651.0 1015.6,620.8 1017.8,617.7 1020.0,532.6 1022.3,574.1 1024.5,572.5 1026.7,560.1 1028.9,606.8 1031.1,613.0 1033.3,650.3 1035.5,652.6 1037.7,605.2 1039.9,631.7 1042.2,627.0 1044.4,608.3 1046.6,563.9 1048.8,583.4 1051.0,535.7 1053.2,567.8 1055.4,583.4 1057.6,639.7 1059.8,666.2 1062.1,622.4 1064.3,619.3 1066.5,616.1 1068.7,628.6 1070.9,569.4 1073.1,566.3 1075.3,619.3 1077.5,703.7 1079.8,647.4 1082.0,634.6 1084.2,620.8 1086.4,634.8 1088.6,594.3 1090.8,563.2 1093.0,586.5 1095.2,609.9 1097.4,636.4 1099.7,609.9 1101.9,578.7 1104.1,519.7 1106.3,560.1 1108.5,637.2 1110.7,704.0 1112.9,673.1 1115.1,642.3 1117.3,597.4 1119.6,641.8 1121.8,634.6 1124.0,643.3 1126.2,628.6 1128.4,625.5 1130.6,608.3 1132.8,573.3 1135.0,580.3 1137.3,581.9 1139.5,580.3 1141.7,631.7 1143.9,586.5 1146.1,611.5 1148.3,613.0 1150.5,597.4 1152.7,596.7 1154.9,613.0 1157.2,620.8 1159.4,641.8 1161.6,613.0 1163.8,592.0 1166.0,606.8 1168.2,597.4 1170.4,627.0 1172.6,617.7 1174.8,642.3 1177.1,645.6 1179.3,642.3 1181.5,585.0 1183.7,583.4 1185.9,571.0 1188.1,606.8 1190.3,566.3 1192.5,538.2 1194.8,538.2 1197.0,578.7 1199.2,616.1 1201.4,636.4 1203.6,623.9 1205.8,616.1 1208.0,646.4 1210.2,631.7 1212.4,623.9 1214.7,560.1 1216.9,603.7 1219.1,613.0 1221.3,606.8 1223.5,625.5 1225.7,569.4 1227.9,549.0 1230.1,548.5 1232.3,503.8 1234.6,549.8 1236.8,613.0 1239.0,617.7 1241.2,583.4 1243.4,622.4 1245.6,646.4 1247.8,608.3 1250.0,649.5 1252.2,628.6 1254.5,569.4 1256.7,545.9 1258.9,549.0 1261.1,546.7 1263.3,544.4 1265.5,560.6 1267.7,504.6 1269.9,503.0 1272.2,561.4 1274.4,536.4 1276.6,575.6 1278.8,542.9 1281.0,562.4 1283.2,572.5 1285.4,532.1 1287.6,539.8 1289.8,558.5 1292.1,609.9 1294.3,638.4 1296.5,605.2 1298.7,550.6 1300.9,580.3 1303.1,577.2 1305.3,580.3 1307.5,592.8 1309.7,563.2 1312.0,594.3 1314.2,647.2 1316.4,631.7 1318.6,599.0 1320.8,586.5 1323.0,563.2 1325.2,583.4 1327.4,603.7 1329.7,589.7 1331.9,578.7 1334.1,588.1 1336.3,605.2 1338.5,630.2 1340.7,591.2 1342.9,549.0 1345.1,594.3 1347.3,630.2 1349.6,567.8 1351.8,558.5 1354.0,550.7 1356.2,544.4 1358.4,577.2 1360.6,586.5 1362.8,603.7 1365.0,622.4 1367.2,482.0 1369.5,563.9 1371.7,619.3 1373.9,669.0 1376.1,619.3 1378.3,605.2 1380.5,611.5 1382.7,613.0 1384.9,596.7 1387.2,608.3 1389.4,625.5 1391.6,636.9 1393.8,713.5 1396.0,661.0 1398.2,559.0 1400.4,614.6 1402.6,616.1 1404.8,605.2 1407.1,679.8 1409.3,675.2 1411.5,702.4 1413.7,668.0 1415.9,534.4" fill="none" stroke="#ea1c24" stroke-width="2.7" stroke-linejoin="round" stroke-linecap="butt"/><text transform="translate(781.7,783.9) scale(1,1.14)" font-size="19.8" text-anchor="middle">1993</text><text transform="translate(834.8,783.9) scale(1,1.14)" font-size="19.8" text-anchor="middle">1995</text><text transform="translate(887.9,783.9) scale(1,1.14)" font-size="19.8" text-anchor="middle">1997</text><text transform="translate(941.0,783.9) scale(1,1.14)" font-size="19.8" text-anchor="middle">1999</text><text transform="translate(994.1,783.9) scale(1,1.14)" font-size="19.8" text-anchor="middle">2001</text><text transform="translate(1047.2,783.9) scale(1,1.14)" font-size="19.8" text-anchor="middle">2003</text><text transform="translate(1100.3,783.9) scale(1,1.14)" font-size="19.8" text-anchor="middle">2005</text><text transform="translate(1153.4,783.9) scale(1,1.14)" font-size="19.8" text-anchor="middle">2007</text><text transform="translate(1206.5,783.9) scale(1,1.14)" font-size="19.8" text-anchor="middle">2009</text><text transform="translate(1259.6,783.9) scale(1,1.14)" font-size="19.8" text-anchor="middle">2011</text><text transform="translate(1312.7,783.9) scale(1,1.14)" font-size="19.8" text-anchor="middle">2013</text><text transform="translate(1365.8,783.9) scale(1,1.14)" font-size="19.8" text-anchor="middle">2015</text><text transform="translate(773.7,764.8) scale(1,1.14)" font-size="19.8" text-anchor="end">-6</text><text transform="translate(773.7,713.2) scale(1,1.14)" font-size="19.8" text-anchor="end">-4</text><text transform="translate(773.7,661.7) scale(1,1.14)" font-size="19.8" text-anchor="end">-2</text><text transform="translate(773.7,610.1) scale(1,1.14)" font-size="19.8" text-anchor="end">0</text><text transform="translate(773.7,558.5) scale(1,1.14)" font-size="19.8" text-anchor="end">2</text><text transform="translate(773.7,507.0) scale(1,1.14)" font-size="19.8" text-anchor="end">4</text><text transform="translate(773.7,455.4) scale(1,1.14)" font-size="19.8" text-anchor="end">6</text><path d="M834.5,756.0v-6.3M834.5,447.5v6.3M887.6,756.0v-6.3M887.6,447.5v6.3M940.7,756.0v-6.3M940.7,447.5v6.3M993.8,756.0v-6.3M993.8,447.5v6.3M1046.9,756.0v-6.3M1046.9,447.5v6.3M1100.0,756.0v-6.3M1100.0,447.5v6.3M1153.1,756.0v-6.3M1153.1,447.5v6.3M1206.2,756.0v-6.3M1206.2,447.5v6.3M1259.3,756.0v-6.3M1259.3,447.5v6.3M1312.4,756.0v-6.3M1312.4,447.5v6.3M1365.5,756.0v-6.3M1365.5,447.5v6.3M781.0,704.6h6.3M1416.0,704.6h-6.3M781.0,653.2h6.3M1416.0,653.2h-6.3M781.0,601.8h6.3M1416.0,601.8h-6.3M781.0,550.3h6.3M1416.0,550.3h-6.3M781.0,498.9h6.3M1416.0,498.9h-6.3" stroke="#454545" stroke-width="1" fill="none"/><path d="M784.3,432.0l9.8,10.1M794.1,432.0l-9.8,10.1" stroke="#222" stroke-width="1.1" fill="none"/><text transform="translate(799.0,442.0) scale(1,1.12)" font-size="19.2">10</text><text transform="translate(820.8,433.0) scale(1,1.1)" font-size="16.3">-8</text><text transform="translate(746.6,598.4) rotate(-90) scale(1,1.075)" font-size="22.6" text-anchor="middle">SSS tendency and ADV (psu/s)</text><text x="938.6" y="436.5" font-size="28.8" font-weight="bold" fill="#000" textLength="20.4" lengthAdjust="spacingAndGlyphs">D</text><text x="981.1" y="438.0" font-size="27.5" font-weight="bold" fill="#000" textLength="277.7" lengthAdjust="spacingAndGlyphs">Exp-BW minus Exp-B</text><path d="M1235.3,467.6h40.9" stroke="#0c0c0c" stroke-width="2.7"/><path d="M1235.3,493.0h40.9" stroke="#ea1c24" stroke-width="2.7"/><text transform="translate(1279.2,475.5) scale(1,1.035)" font-size="20.45">SSS tendency</text><text transform="translate(1279.2,501.2) scale(1,1.035)" font-size="20.45">ADV</text><text transform="translate(1307.6,733.3) scale(1,1.03)" font-size="24.6">R=0.07</text></g>
</svg></body></html>
